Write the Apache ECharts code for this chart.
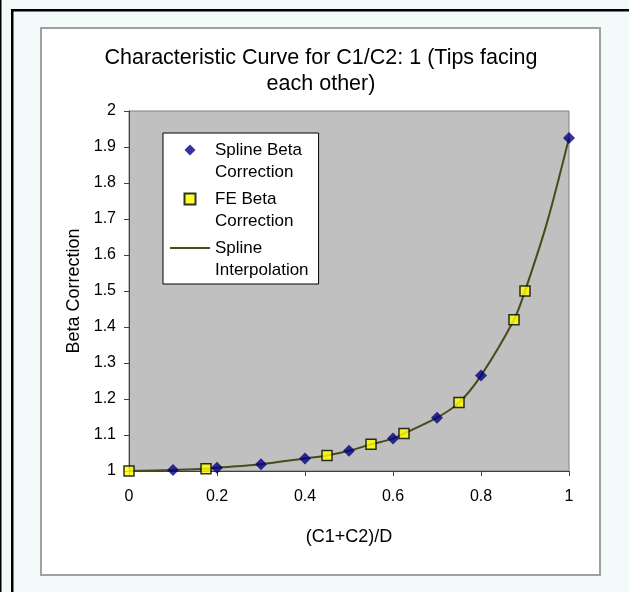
<!DOCTYPE html>
<html>
<head>
<meta charset="utf-8">
<script src="https://cdn.jsdelivr.net/npm/echarts@6/dist/echarts.min.js"></script>
<style>html,body{margin:0;padding:0;background:#F3FAFA;}#c{width:629px;height:592px;}</style>
</head>
<body>
<div id="c"></div>
<script>
// ---- data ----
var splineX = [0.1, 0.2, 0.3, 0.4, 0.5, 0.6, 0.7, 0.8, 1.0];
var splineY = [1.003, 1.009, 1.019, 1.035, 1.056, 1.09, 1.148, 1.265, 1.925];
var feX = [0, 0.175, 0.45, 0.55, 0.625, 0.75, 0.875, 0.9];
var feY = [1.0, 1.006, 1.043, 1.074, 1.104, 1.19, 1.42, 1.5];
var curveX = [0, 0.1, 0.175, 0.2, 0.3, 0.4, 0.45, 0.5, 0.55, 0.6, 0.625, 0.7, 0.75, 0.8, 0.875, 0.9, 0.95, 1.0];
var curveY = [1.0, 1.003, 1.006, 1.009, 1.019, 1.035, 1.043, 1.056, 1.074, 1.09, 1.104, 1.148, 1.19, 1.265, 1.42, 1.5, 1.69, 1.925];
var seriesNames = ['Spline Beta\nCorrection', 'FE Beta\nCorrection', 'Spline\nInterpolation'];
var xTicks = [0, 0.2, 0.4, 0.6, 0.8, 1];
var yTicks = [1, 1.1, 1.2, 1.3, 1.4, 1.5, 1.6, 1.7, 1.8, 1.9, 2];
var titleText = 'Characteristic Curve for C1/C2: 1 (Tips facing\neach other)';
var xName = '(C1+C2)/D';
var yName = 'Beta Correction';

function pairs(xs, ys) { return xs.map(function (x, i) { return [x, ys[i]]; }); }

var FONT = "'Liberation Sans', Arial, sans-serif";
var chart = echarts.init(document.getElementById('c'), null, {renderer: 'canvas'});
chart.setOption({
  backgroundColor: '#F3FAFA',
  animation: false,
  graphic: [
    {type: 'rect', z: -20, shape: {x: 0, y: 0, width: 1.5, height: 592}, style: {fill: '#000'}},
    {type: 'rect', z: -20, shape: {x: 11, y: 9, width: 2.5, height: 583}, style: {fill: '#000'}},
    {type: 'rect', z: -20, shape: {x: 11, y: 9, width: 618, height: 2.5}, style: {fill: '#000'}},
    {type: 'rect', z: -20, shape: {x: 41, y: 28, width: 559, height: 547}, style: {fill: '#FFFFFF', stroke: '#A0A0A0', lineWidth: 2}}
  ],
  title: {
    text: titleText,
    left: 321, top: 45, textAlign: 'center', padding: 0,
    textStyle: {fontFamily: FONT, fontSize: 21.5, fontWeight: 'normal', color: '#000', lineHeight: 26}
  },
  legend: {
    orient: 'vertical',
    left: 163, top: 133,
    padding: [-16, 10, 3, 7],
    itemWidth: 40, itemHeight: 11, itemGap: -17,
    symbolKeepAspect: true,
    backgroundColor: '#FFFFFF', borderColor: '#000', borderWidth: 1,
    data: [
      {name: seriesNames[0], icon: 'path://M6,0 L12,6 L6,12 L0,6 Z'},
      {name: seriesNames[1], icon: 'path://M0,0 L10,0 L10,10 L0,10 Z'},
      {name: seriesNames[2], icon: 'path://M0,0 L40,0 L40,2 L0,2 Z'}
    ],
    formatter: function (name) { return ' \n' + name; },
    textStyle: {fontFamily: FONT, fontSize: 17, color: '#000', lineHeight: 22}
  },
  grid: {
    left: 129, right: 60, top: 111, bottom: 121,
    show: true, backgroundColor: '#C0C0C0', borderColor: '#808080', borderWidth: 1
  },
  xAxis: {
    type: 'value', min: xTicks[0], max: xTicks[xTicks.length - 1], interval: 0.2,
    name: xName, nameLocation: 'middle', nameGap: 57,
    nameTextStyle: {fontFamily: FONT, fontSize: 18, color: '#000'},
    axisLine: {show: true, lineStyle: {color: '#404040', width: 1}},
    axisTick: {show: true, length: 5, lineStyle: {color: '#404040'}},
    axisLabel: {fontFamily: FONT, fontSize: 16, color: '#000', margin: 18},
    splitLine: {show: false}
  },
  yAxis: {
    type: 'value', min: yTicks[0], max: yTicks[yTicks.length - 1], interval: 0.1,
    name: yName, nameLocation: 'middle', nameGap: 46, nameRotate: 90,
    nameTextStyle: {fontFamily: FONT, fontSize: 18, color: '#000'},
    axisLine: {show: true, lineStyle: {color: '#404040', width: 1}},
    axisTick: {show: true, length: 5, lineStyle: {color: '#404040'}},
    axisLabel: {fontFamily: FONT, fontSize: 16, color: '#000', margin: 13,
      formatter: function (v) { return String(Math.round(v * 10) / 10); }},
    splitLine: {show: false}
  },
  series: [
    {
      name: seriesNames[2], type: 'line', z: 2,
      data: pairs(curveX, curveY), smooth: 0.3, symbol: 'none',
      lineStyle: {color: '#4A4A1A', width: 2}, itemStyle: {color: '#4A4A1A'}
    },
    {
      name: seriesNames[0], type: 'scatter', z: 3,
      data: pairs(splineX, splineY), symbol: 'diamond', symbolSize: [12, 12],
      itemStyle: {color: '#000080'}
    },
    {
      name: seriesNames[1], type: 'scatter', z: 4,
      data: pairs(feX, feY), symbol: 'rect', symbolSize: [10, 10],
      itemStyle: {color: '#FFFF00', borderColor: '#000', borderWidth: 1.5}
    }
  ]
});
</script>
</body>
</html>
